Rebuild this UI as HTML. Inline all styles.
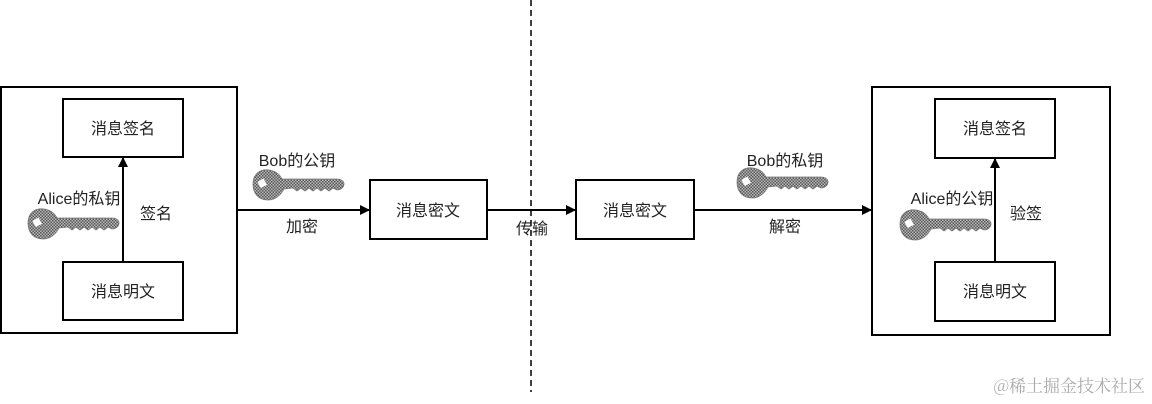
<!DOCTYPE html>
<html><head><meta charset="utf-8"><style>
body{margin:0;background:#fff;}
svg{display:block;}
text{font-family:"Liberation Sans","Noto Sans CJK SC",sans-serif;fill:#222;}
</style></head><body>
<svg width="1152" height="404" viewBox="0 0 1152 404" xmlns="http://www.w3.org/2000/svg">
<defs>
<marker id="ah" markerWidth="10" markerHeight="10" refX="9" refY="5" orient="auto" markerUnits="userSpaceOnUse"><path d="M0,0 L10,5 L0,10 z" fill="#000"/></marker>
<pattern id="chk" width="3" height="3" patternUnits="userSpaceOnUse"><rect width="3" height="3" fill="#bbb"/><rect width="1.5" height="1.5" fill="#555"/><rect x="1.5" y="1.5" width="1.5" height="1.5" fill="#555"/></pattern>
<g id="key">
<path d="M0,15 C0,4 8,0 16,1 C23,2 27,6 29,10 L84,10 C88,10 91,12 91,15 C91,18 88,21 84,21 L80,19 L76,22 L72,19 L68,22 L64,19 L60,22 L56,19 L52,22 L48,19 L44,22 L40,19 L31,20 C28,26 22,31 15,31 C6,31 0,25 0,15 z" fill="url(#chk)" stroke="#777" stroke-width="0.8"/>
<rect x="6" y="11" width="7" height="7" fill="#fff" transform="rotate(-30 9 15)"/>
</g>
</defs>
<g fill="none" stroke="#000" stroke-width="2">
<rect x="1" y="87" width="236" height="246"/>
<rect x="63" y="99" width="120" height="58"/>
<rect x="63" y="262" width="120" height="58"/>
<rect x="370" y="180" width="117" height="59"/>
<rect x="576" y="180" width="118" height="59"/>
<rect x="872" y="87" width="238" height="248"/>
<rect x="935" y="99" width="120" height="59"/>
<rect x="935" y="262" width="120" height="59"/>
<line x1="123" y1="262" x2="123" y2="158" marker-end="url(#ah)"/>
<line x1="995" y1="262" x2="995" y2="159" marker-end="url(#ah)"/>
<line x1="237" y1="210" x2="369" y2="210" marker-end="url(#ah)"/>
<line x1="487" y1="210" x2="575" y2="210" marker-end="url(#ah)"/>
<line x1="694" y1="210" x2="871" y2="210" marker-end="url(#ah)"/>
<line x1="531" y1="0" x2="531" y2="392" stroke-dasharray="6,4" stroke-width="1.5"/>
</g>
<use href="#key" x="28" y="208"/>
<use href="#key" x="253" y="169"/>
<use href="#key" x="737" y="167"/>
<use href="#key" x="900" y="209"/>
<g font-size="16" text-anchor="middle">
<text x="123" y="134">消息签名</text>
<text x="123" y="297">消息明文</text>
<text x="428" y="216">消息密文</text>
<text x="635" y="216">消息密文</text>
<text x="995" y="134">消息签名</text>
<text x="995" y="297">消息明文</text>
<text x="79" y="204">Alice的私钥</text>
<text x="156" y="219">签名</text>
<text x="297" y="166">Bob的公钥</text>
<text x="302" y="232">加密</text>
<text x="532" y="234">传输</text>
<text x="785" y="166">Bob的私钥</text>
<text x="785" y="232">解密</text>
<text x="952" y="204">Alice的公钥</text>
<text x="1026" y="219">验签</text>
</g>
<text x="1145" y="392" font-size="17" text-anchor="end" style="fill:#aaa;font-family:'Noto Serif CJK SC','Liberation Serif',serif">@稀土掘金技术社区</text>
</svg>
</body></html>
